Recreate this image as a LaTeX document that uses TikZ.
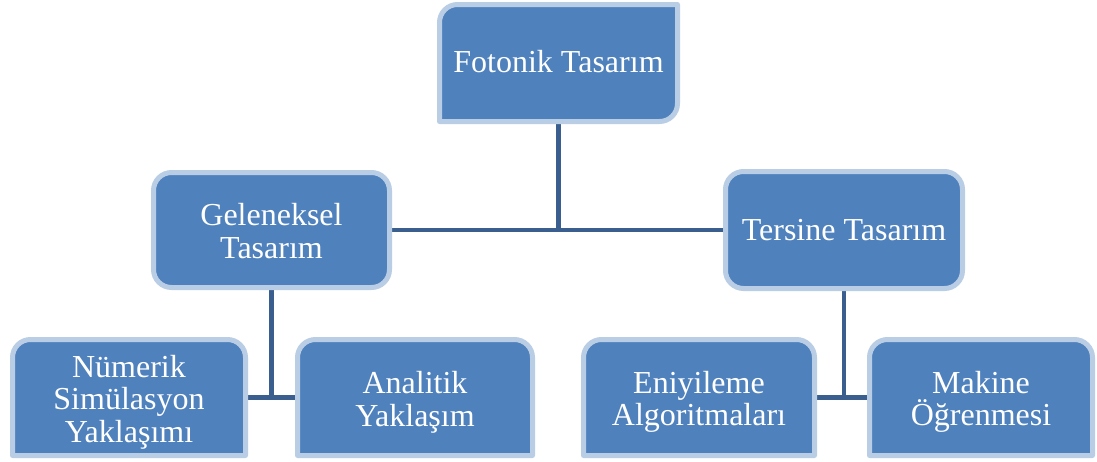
\documentclass[tikz,border=0pt]{standalone}
\usepackage{fontspec}
\setmainfont{Liberation Serif}
\definecolor{boxfill}{HTML}{4F81BD}
\definecolor{boxline}{HTML}{B9CDE5}
\definecolor{connc}{HTML}{3A5F8E}
\pgfdeclarelayer{conn}
\pgfdeclarelayer{boxes}
\pgfsetlayers{conn,boxes,main}
\tikzset{
  box/.style={fill=boxfill, draw=boxline, line width=3.75pt, line join=round},
  conn/.style={draw=connc, line width=3.4pt},
  frame/.style={inner sep=0pt, outer sep=0pt, shape=rectangle},
  lbl/.style={text=white, font=\fontsize{24}{24.5}\selectfont, align=center, inner sep=0pt, outer sep=0pt}
}
\begin{document}
\begin{tikzpicture}[x=0.75pt,y=-0.75pt]
\useasboundingbox (0,0) rectangle (1097,461);
% geometry nodes
\node[frame, minimum width=182.25pt, minimum height=91.5pt] (top) at (558.5,63) {};
\node[frame, minimum width=180.75pt, minimum height=90pt] (gel) at (271.5,230) {};
\node[frame, minimum width=181.5pt, minimum height=91.5pt] (ters) at (844,230) {};
\node[frame, minimum width=178.5pt, minimum height=90.75pt] (num) at (129,397.5) {};
\node[frame, minimum width=180pt, minimum height=90.75pt] (ana) at (415,397.5) {};
\node[frame, minimum width=177pt, minimum height=90.75pt] (eni) at (699,397.5) {};
\node[frame, minimum width=171pt, minimum height=90.75pt] (mak) at (981,397.5) {};
% text nodes
\node[lbl] (topt) at (558.5,62) {Fotonik Tasarım};
\node[lbl] (gelt) at (271.5,231) {Geleneksel\\Tasarım};
\node[lbl] (terst) at (844,230) {Tersine Tasarım};
\node[lbl] (numt) at (129,402) {Nümerik\\Simülasyon\\Yaklaşımı};
\node[lbl] (anat) at (415,402) {Analitik\\Yaklaşım};
\node[lbl] (enit) at (699,402) {Eniyileme\\Algoritmaları};
\node[lbl] (makt) at (981,402) {Makine\\Öğrenmesi};
% boxes
\begin{pgfonlayer}{boxes}
\path[box] (439.5,121.5) -- (439.5,22.5) arc[start angle=180,end angle=270,radius=18] -- (677.5,4.5) -- (677.5,103.5) arc[start angle=0,end angle=90,radius=18] -- cycle;
\path[box, rounded corners=13.5pt] (153.5,172.5) rectangle (389.5,287.5);
\path[box, rounded corners=13.5pt] (725.5,171.5) rectangle (962.5,288.5);
\foreach \xl/\xr in {12.5/245.5, 297.5/532.5, 583.5/814.5, 869.5/1092.5}{
  \path[box] (\xl,455.5) -- (\xl,357.5) arc[start angle=180,end angle=270,radius=18] -- ({\xr-18},339.5) arc[start angle=270,end angle=360,radius=18] -- (\xr,455.5) -- cycle;
}
\end{pgfonlayer}
% connectors
\begin{pgfonlayer}{conn}
\draw[conn] (top.south) -- (top.south |- gel.east);
\draw[conn] (gel.east) -- (ters.west);
\draw[conn] (gel.south) -- (gel.south |- num.east);
\draw[conn] (num.east) -- (ana.west);
\draw[conn] (ters.south) -- (ters.south |- eni.east);
\draw[conn] (eni.east) -- (mak.west);
\end{pgfonlayer}
\end{tikzpicture}
\end{document}
